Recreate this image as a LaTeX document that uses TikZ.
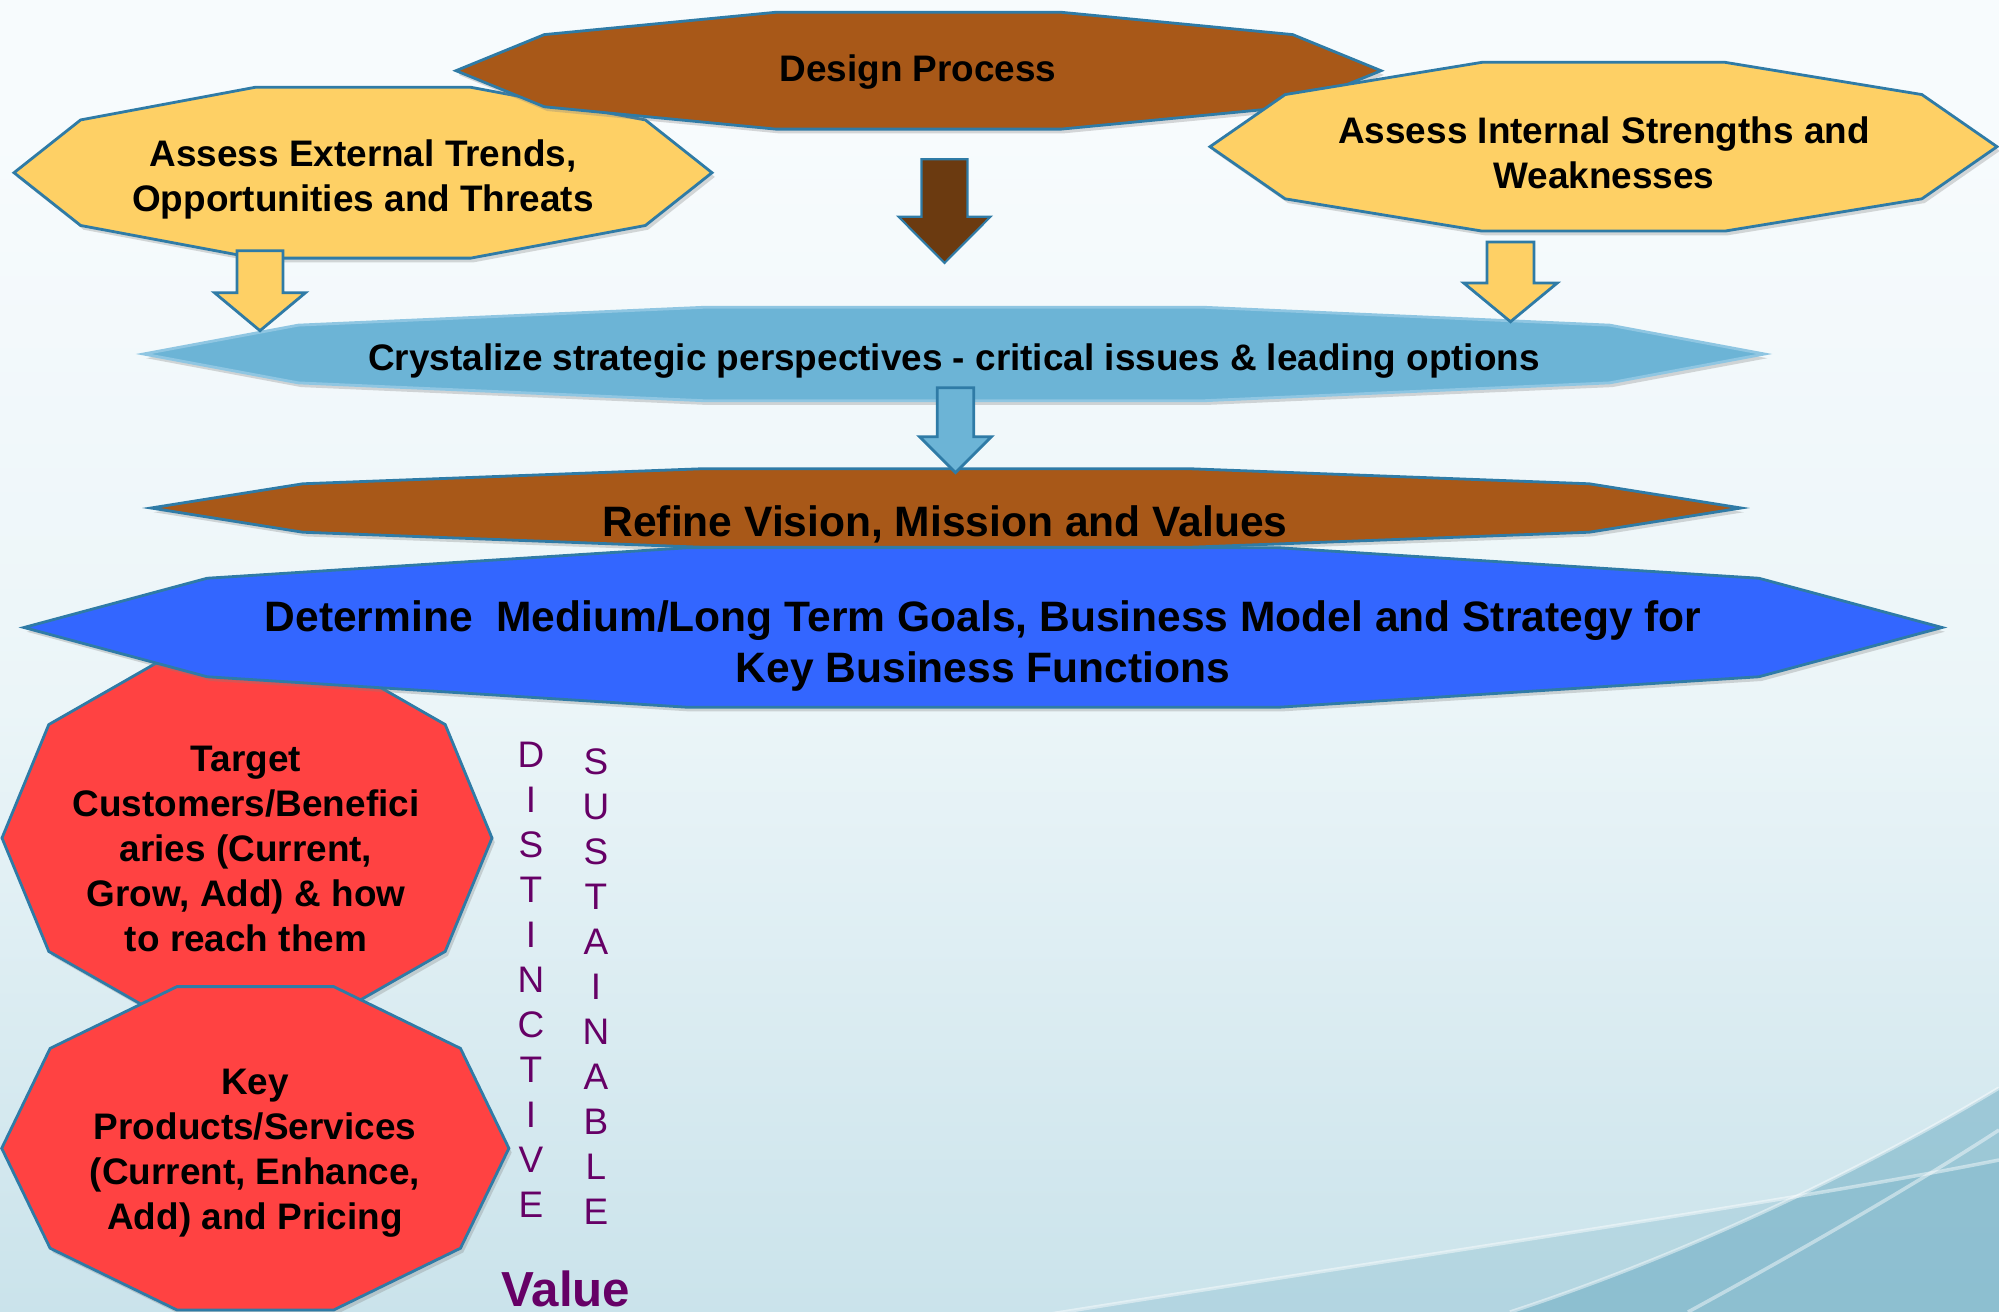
\documentclass[tikz,border=0pt]{standalone}
\usepackage{fontspec}
\setmainfont{Liberation Sans}
\usetikzlibrary{shadows}

\definecolor{rust}{HTML}{A85818}
\definecolor{umber}{HTML}{6B3A10}
\definecolor{sunny}{HTML}{FED065}
\definecolor{sky}{HTML}{6CB4D6}
\definecolor{royal}{HTML}{3366FF}
\definecolor{tomato}{HTML}{FF4242}
\definecolor{edge}{HTML}{2F7BA6}
\definecolor{paleedge}{HTML}{8FC6E2}
\definecolor{plum}{HTML}{660066}
\definecolor{bgtop}{HTML}{F7FBFD}
\definecolor{bgmid}{HTML}{EBF5F8}
\definecolor{bglow}{HTML}{C3DFE8}
\definecolor{bgbot}{HTML}{88BCCD}
\definecolor{bgdeep}{HTML}{6FAEC4}

\pgfdeclareverticalshading{backdrop}{100bp}{color(0bp)=(bgbot); color(20bp)=(bglow); color(48bp)=(bgmid); color(70bp)=(bgtop); color(100bp)=(bgtop)}

\tikzset{
  deca/.style={line width=0.8pt,
    drop shadow={shadow xshift=0.8pt, shadow yshift=-1.2pt, opacity=0.3}},
  boxtext/.style={font=\bfseries\fontsize{10.5}{12.8}\selectfont, align=center, inner sep=0pt},
  bigtext/.style={boxtext, font=\bfseries\fontsize{12.1}{14.5}\selectfont},
  spine/.style={font=\fontsize{10.5}{12.8}\selectfont, text=plum, align=center, inner sep=0pt},
  swoosh/.style={white, opacity=0.45, line width=1pt},
  pics/blockdown/.style args={#1/#2/#3/#4}{code={
    \path[pic actions] (-#3,0) -- (#3,0) -- (#3,#1-#2) -- (#4,#1-#2) -- (0,#1)
      -- (-#4,#1-#2) -- (-#3,#1-#2) -- cycle;
  }}
}

\begin{document}
\begin{tikzpicture}[x=0.01cm, y=-0.01cm]
\useasboundingbox (0,0) rectangle (1999,1312);
\shade[shading=backdrop] (0,0) rectangle (1999,1312);
\fill[bgdeep, opacity=0.55] (1510,1312) .. controls (1700,1250) and (1880,1160) .. (1999,1088) -- (1999,1312) -- cycle;
\fill[bgdeep, opacity=0.25] (950,1330) .. controls (1450,1250) and (1800,1200) .. (1999,1160) -- (1999,1312) -- cycle;
\draw[swoosh] (950,1330) .. controls (1450,1250) and (1800,1200) .. (1999,1160);
\draw[swoosh] (1510,1312) .. controls (1700,1250) and (1880,1160) .. (1999,1088);
\draw[swoosh] (1688,1312) .. controls (1820,1240) and (1930,1175) .. (1999,1130);

% shape centres
\coordinate (ext-c) at (363,172.7);
\coordinate (dp-c)  at (918.5,70.7);
\coordinate (int-c) at (1603.5,146.7);
\coordinate (cry-c) at (954,354);
\coordinate (ref-c) at (946,508);
\coordinate (tgt-c) at (247,838);
\coordinate (det-c) at (983,627.5);
\coordinate (key-c) at (255.3,1148.3);

\foreach \n/\rx/\ry/\col/\ln in {ext/349/89.8/sunny/edge, dp/462.5/61.4/rust/edge, int/393.5/88.7/sunny/edge,
    cry/810.5/49.1/sky/paleedge, ref/795/41.2/rust/edge, tgt/245/193/tomato/edge, det/959/83.8/royal/edge,
    key/253.6/170/tomato/edge}
  \draw[deca, fill=\col, draw=\ln, shift={(\n-c)}] (\rx,0)
    foreach \a in {36,72,...,324} {-- ({\rx*cos(\a)},{\ry*sin(\a)})} -- cycle;

\pic[fill=umber, draw=edge, line width=0.6pt] (downdp)  at (944.5,159.3) {blockdown=103.7/46.3/23/46};
\pic[fill=sunny, draw=edge, line width=0.8pt] (downext) at (260,250.7)   {blockdown=80/38/23/45.5};
\pic[fill=sunny, draw=edge, line width=0.8pt] (downint) at (1510.5,242)  {blockdown=79.7/38.7/23.5/46.75};
\pic[fill=sky,   draw=edge, line width=0.8pt] (downcry) at (955.5,387.7) {blockdown=85/36/18.25/36};

\node[boxtext] (dp)  at (918,72)   {Design Process};
\node[boxtext] (ext) at (363,179)  {Assess External Trends,\\Opportunities and Threats};
\node[boxtext] (int) at (1604,153) {Assess Internal Strengths and\\Weaknesses};
\node[boxtext] (cry) at (954,361)  {Crystalize strategic perspectives - critical issues \& leading options};
\node[bigtext] (ref) at (945,524)  {Refine Vision, Mission and Values};
\node[bigtext] (det) at (983,646)  {Determine\ \ Medium/Long Term Goals, Business Model and Strategy for\\Key Business Functions};
\node[boxtext] (tgt) at (246,849)  {Target\\Customers/Benefici\\aries (Current,\\Grow, Add) \& how\\to reach them};
\node[boxtext] (key) at (255,1153) {Key\\Products/Services\\(Current, Enhance,\\Add) and Pricing};
\node[spine] (distinct) at (531,980) {D\\I\\S\\T\\I\\N\\C\\T\\I\\V\\E};
\node[spine] (sustain)  at (596,987) {S\\U\\S\\T\\A\\I\\N\\A\\B\\L\\E};
\node[font=\bfseries\fontsize{14}{16}\selectfont, text=plum, inner sep=0pt] (value) at (566,1289) {Value};
\end{tikzpicture}
\end{document}
